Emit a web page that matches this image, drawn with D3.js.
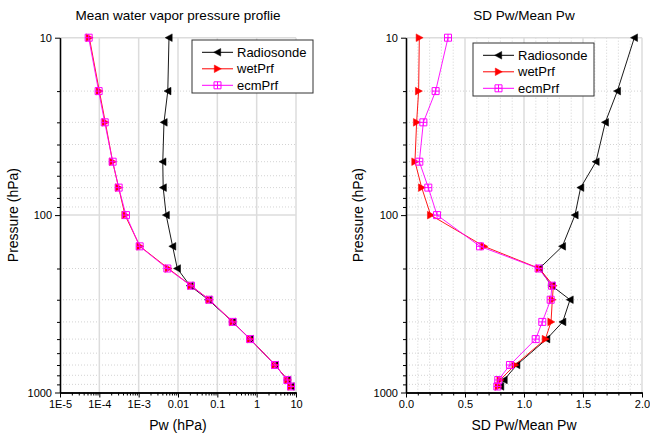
<!DOCTYPE html>
<html>
<head>
<meta charset="utf-8">
<script src="https://cdn.jsdelivr.net/npm/d3@7"></script>
<style>
  body { margin: 0; background: #fff; }
  svg { display: block; font-family: "Liberation Sans", Arial, sans-serif; }
</style>
</head>
<body>
<div id="main"></div>
<script>
// pressure levels (hPa)
const levels = [10, 20, 30, 50, 70, 100, 150, 200, 250, 300, 400, 500, 700, 850, 925];

// mean water vapor pressure (hPa)
const sondeMean = [0.0059, 0.0055, 0.0044, 0.0041, 0.0042, 0.0050, 0.0073, 0.0096, 0.0202, 0.059, 0.245, 0.68, 2.93, 6.1, 7.47];
const wetMean = [5.57e-5, 1.0e-4, 1.42e-4, 2.18e-4, 3.1e-4, 4.5e-4, 1.08e-3, 5.68e-3, 0.0214, 0.063, 0.245, 0.69, 2.93, 6.14, 7.47];
const ecmMean = [5.36e-5, 9.6e-5, 1.37e-4, 2.18e-4, 3.1e-4, 4.76e-4, 1.06e-3, 5.36e-3, 0.0214, 0.0622, 0.245, 0.68, 2.93, 6.03, 7.47];

// SD / mean
const sondeRatio = [1.935, 1.791, 1.689, 1.61, 1.48, 1.432, 1.325, 1.13, 1.234, 1.39, 1.328, 1.192, 0.938, 0.831, 0.802];
const wetRatio = [0.113, 0.107, 0.09, 0.076, 0.133, 0.209, 0.661, 1.13, 1.249, 1.24, 1.229, 1.181, 0.924, 0.797, 0.782];
const ecmRatio = [0.356, 0.251, 0.147, 0.113, 0.189, 0.263, 0.627, 1.124, 1.237, 1.226, 1.155, 1.099, 0.881, 0.782, 0.774];

const seriesNames = ["Radiosonde", "wetPrf", "ecmPrf"];
const seriesColors = ["#000000", "#ff0000", "#ff00ff"];

const logXTicks = [1e-5, 1e-4, 1e-3, 0.01, 0.1, 1, 10];
const logXLabels = ["1E-5", "1E-4", "1E-3", "0.01", "0.1", "1", "10"];
const linXTicks = [0, 0.5, 1.0, 1.5, 2.0];
const linXLabels = ["0.0", "0.5", "1.0", "1.5", "2.0"];
const yTicks = [10, 100, 1000];
const yLabels = ["10", "100", "1000"];

const width = 650, height = 439;
const svg = d3.select("#main").append("svg")
  .attr("width", width)
  .attr("height", height);

const y = d3.scaleLog().domain([10, 1000]).range([37.7, 392.5]);

// minor values on the log pressure axis
const yMinor = [];
[10, 100].forEach(d => { for (let k = 2; k <= 9; k++) yMinor.push(d * k); });

/**
 * Marker path for each series, centred on 0,0.
 */
const markerPath = function (i) {
  if (i === 0) return "M-3.8,0L3.2,-3.8L3.2,3.8Z";
  if (i === 1) return "M3.8,0L-3.2,-3.8L-3.2,3.8Z";
  return "M-3.5,-3.5h7v7h-7ZM0,-3.5v7M-3.5,0h7";
};

const drawMarker = function (g, i, cx, cy) {
  g.append("path")
    .attr("d", markerPath(i))
    .attr("transform", "translate(" + cx + "," + cy + ")")
    .attr("fill", i === 2 ? "none" : seriesColors[i])
    .attr("stroke", seriesColors[i])
    .attr("stroke-width", i === 2 ? 1 : 0.5);
};

const drawPanel = function (opt) {
  const x = opt.x;
  const g = svg.append("g");
  const [x0, x1] = x.range();
  const [yTop, yBot] = [y.range()[0], y.range()[1]];

  // minor grid
  g.selectAll(".hminor").data(yMinor).enter().append("line")
    .attr("x1", x0).attr("x2", x1)
    .attr("y1", d => y(d)).attr("y2", d => y(d))
    .attr("stroke", "#c8c8c8").attr("stroke-width", 0.8)
    .attr("stroke-dasharray", "1,2");
  g.selectAll(".vminor").data(opt.xGridMinor).enter().append("line")
    .attr("x1", d => x(d)).attr("x2", d => x(d))
    .attr("y1", yTop).attr("y2", yBot)
    .attr("stroke", "#c8c8c8").attr("stroke-width", 0.8)
    .attr("stroke-dasharray", "1,2");

  // major grid
  g.selectAll(".hmajor").data([10, 100]).enter().append("line")
    .attr("x1", x0).attr("x2", x1)
    .attr("y1", d => y(d)).attr("y2", d => y(d))
    .attr("stroke", "#dcdcdc").attr("stroke-width", 1.5);
  g.selectAll(".vmajor").data(opt.xTicks.slice(1)).enter().append("line")
    .attr("x1", d => x(d)).attr("x2", d => x(d))
    .attr("y1", yTop).attr("y2", yBot)
    .attr("stroke", "#dcdcdc").attr("stroke-width", 1.5);

  // axes
  const xAxis = d3.axisBottom(x)
    .tickValues(opt.xTicks)
    .tickFormat((d, i) => opt.xLabels[i])
    .tickSizeInner(5).tickSizeOuter(0).tickPadding(3);
  const xMinorAxis = d3.axisBottom(x)
    .tickValues(opt.xMinor).tickFormat("")
    .tickSizeInner(3).tickSizeOuter(0);
  const yAxis = d3.axisLeft(y)
    .tickValues(yTicks)
    .tickFormat((d, i) => yLabels[i])
    .tickSizeInner(5).tickSizeOuter(0).tickPadding(3);
  const yMinorAxis = d3.axisLeft(y)
    .tickValues(yMinor).tickFormat("")
    .tickSizeInner(3).tickSizeOuter(0);

  [xMinorAxis, xAxis].forEach(a => {
    g.append("g").attr("transform", "translate(0," + yBot + ")").call(a)
      .call(s => s.select(".domain").attr("stroke", "#000").attr("stroke-width", 1.3));
  });
  [yMinorAxis, yAxis].forEach(a => {
    g.append("g").attr("transform", "translate(" + x0 + ",0)").call(a)
      .call(s => s.select(".domain").attr("stroke", "#000").attr("stroke-width", 1.3));
  });
  g.selectAll(".tick text").attr("font-size", 11).attr("fill", "#000")
    .attr("font-family", "'Liberation Sans', Arial, sans-serif");
  g.selectAll(".tick line").attr("stroke", "#000");

  // series
  const line = d3.line().x(d => x(d[0])).y(d => y(d[1]));
  opt.series.forEach((vals, i) => {
    const pts = vals.map((v, k) => [v, levels[k]]);
    g.append("path").datum(pts)
      .attr("d", line)
      .attr("fill", "none")
      .attr("stroke", seriesColors[i])
      .attr("stroke-width", 0.9);
    const mg = g.append("g");
    pts.forEach(p => drawMarker(mg, i, x(p[0]), y(p[1])));
  });

  // titles
  g.append("text")
    .attr("x", (x0 + x1) / 2).attr("y", 20)
    .attr("text-anchor", "middle").attr("font-size", 13.5)
    .text(opt.title);
  g.append("text")
    .attr("x", (x0 + x1) / 2).attr("y", 430)
    .attr("text-anchor", "middle").attr("font-size", 14)
    .text(opt.xTitle);
  g.append("text")
    .attr("transform", "translate(" + opt.yTitleX + "," + ((yTop + yBot) / 2) + ") rotate(-90)")
    .attr("text-anchor", "middle").attr("font-size", 14)
    .text("Pressure (hPa)");

  // legend
  const lg = g.append("g").attr("transform", "translate(" + opt.legend[0] + "," + opt.legend[1] + ")");
  lg.append("rect")
    .attr("x", 0).attr("y", 0).attr("width", 121).attr("height", 53)
    .attr("fill", "#fff").attr("stroke", "#333").attr("stroke-width", 1);
  seriesNames.forEach((name, i) => {
    const ly = 12.3 + i * 16.5;
    lg.append("line")
      .attr("x1", 10).attr("x2", 41).attr("y1", ly).attr("y2", ly)
      .attr("stroke", seriesColors[i]).attr("stroke-width", 1);
    drawMarker(lg, i, 25.5, ly);
    lg.append("text")
      .attr("x", 45).attr("y", ly + 4.6)
      .attr("font-size", 13)
      .text(name);
  });
};

// left panel: mean Pw
const xLeft = d3.scaleLog().domain([1e-5, 10]).range([60, 296]);
const leftMinor = [];
[1e-5, 1e-4, 1e-3, 0.01, 0.1, 1].forEach(d => { for (let k = 2; k <= 9; k++) leftMinor.push(d * k); });
drawPanel({
  x: xLeft,
  xTicks: logXTicks,
  xLabels: logXLabels,
  xMinor: leftMinor,
  xGridMinor: [],
  series: [sondeMean, wetMean, ecmMean],
  title: "Mean water vapor pressure proflie",
  xTitle: "Pw (hPa)",
  yTitleX: 18,
  legend: [192, 40]
});

// right panel: SD / mean
const xRight = d3.scaleLinear().domain([0, 2]).range([406, 642]);
const rightMinor = d3.range(1, 20).map(k => k / 10).filter(v => Math.abs(v * 2 - Math.round(v * 2)) > 1e-6);
drawPanel({
  x: xRight,
  xTicks: linXTicks,
  xLabels: linXLabels,
  xMinor: rightMinor,
  xGridMinor: rightMinor,
  series: [sondeRatio, wetRatio, ecmRatio],
  title: "SD Pw/Mean Pw",
  xTitle: "SD Pw/Mean Pw",
  yTitleX: 363,
  legend: [473, 43]
});
</script>
</body>
</html>
